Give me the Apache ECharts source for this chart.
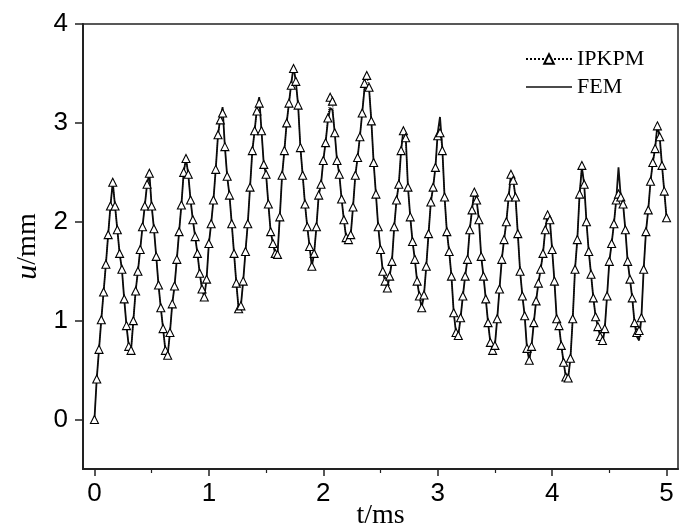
<!DOCTYPE html>
<html>
<head>
<meta charset="utf-8">
<script src="https://cdn.jsdelivr.net/npm/echarts@6/dist/echarts.min.js"></script>
<style>html,body{margin:0;padding:0;background:#fff}#c{width:685px;height:530px}</style>
</head>
<body>
<div id="c"></div>
<script>
// time step (ms) of the sampled series
var dt = 0.02;
var xTicks = [0, 1, 2, 3, 4, 5];
var xMinorTicks = [0.5, 1.5, 2.5, 3.5, 4.5];
var yTicks = [0, 1, 2, 3, 4];
var seriesNames = ['IPKPM', 'FEM'];

// IPKPM displacement u (mm), one value per dt
var ipkpm = [
0.00,0.41,0.71,1.01,1.29,1.57,1.87,2.16,2.40,2.16,
1.92,1.68,1.52,1.22,0.95,0.74,0.70,1.00,1.30,1.50,
1.72,1.95,2.16,2.38,2.49,2.16,1.93,1.65,1.36,1.13,
0.92,0.70,0.65,0.88,1.17,1.35,1.62,1.90,2.17,2.50,
2.64,2.48,2.22,2.02,1.85,1.68,1.48,1.32,1.24,1.42,
1.78,1.98,2.22,2.53,2.88,3.03,3.10,2.76,2.46,2.27,
1.98,1.68,1.38,1.12,1.15,1.40,1.70,1.98,2.35,2.72,
2.92,3.12,3.20,2.92,2.58,2.48,2.18,1.90,1.78,1.68,
1.67,2.05,2.47,2.72,3.00,3.20,3.38,3.55,3.42,3.18,
2.75,2.47,2.18,1.95,1.75,1.55,1.68,1.95,2.27,2.38,
2.62,2.80,3.05,3.26,3.22,2.90,2.62,2.48,2.23,2.02,
1.84,1.82,1.87,2.15,2.47,2.65,2.86,3.10,3.40,3.48,
3.36,3.02,2.60,2.28,1.95,1.72,1.50,1.40,1.33,1.45,
1.60,1.95,2.22,2.38,2.72,2.92,2.85,2.35,2.05,1.80,
1.62,1.40,1.25,1.13,1.26,1.55,1.88,2.20,2.35,2.55,
2.87,2.90,2.72,2.25,1.90,1.70,1.45,1.08,0.88,0.85,
1.03,1.25,1.45,1.62,1.92,2.12,2.30,2.22,2.02,1.65,
1.45,1.22,0.98,0.78,0.70,0.75,1.02,1.32,1.62,1.82,
2.00,2.25,2.48,2.42,2.25,1.88,1.50,1.25,1.05,0.72,
0.60,0.74,0.98,1.20,1.38,1.52,1.68,1.92,2.07,2.02,
1.72,1.40,1.02,0.95,0.75,0.58,0.43,0.42,0.62,1.02,
1.52,1.82,2.28,2.57,2.38,2.00,1.70,1.47,1.23,1.04,
0.94,0.84,0.80,0.92,1.25,1.60,1.78,1.98,2.22,2.28,
2.25,2.18,1.92,1.60,1.42,1.23,0.98,0.88,0.90,1.03,
1.52,1.90,2.12,2.41,2.60,2.74,2.97,2.86,2.57,2.31,
2.04
];

// FEM displacement u (mm), one value per dt
var fem = [
0.00,0.41,0.71,1.01,1.29,1.57,1.87,2.16,2.40,2.16,
1.92,1.68,1.52,1.22,0.95,0.74,0.70,1.00,1.30,1.50,
1.72,1.95,2.16,2.38,2.49,2.16,1.93,1.65,1.36,1.13,
0.92,0.70,0.65,0.88,1.17,1.35,1.62,1.90,2.17,2.50,
2.64,2.48,2.22,2.02,1.85,1.68,1.48,1.32,1.24,1.42,
1.78,1.98,2.22,2.53,2.88,3.05,3.16,2.76,2.46,2.27,
1.98,1.68,1.38,1.12,1.15,1.40,1.70,1.98,2.35,2.72,
2.92,3.15,3.26,2.92,2.58,2.48,2.18,1.90,1.78,1.68,
1.67,2.05,2.47,2.72,3.00,3.20,3.40,3.57,3.42,3.18,
2.75,2.47,2.18,1.95,1.75,1.55,1.68,1.95,2.27,2.38,
2.62,2.80,3.02,3.15,3.13,2.90,2.62,2.48,2.23,2.02,
1.84,1.82,1.87,2.15,2.47,2.65,2.86,3.10,3.34,3.38,
3.35,3.02,2.60,2.28,1.95,1.72,1.50,1.40,1.33,1.45,
1.60,1.95,2.22,2.38,2.72,2.93,2.88,2.35,2.05,1.80,
1.62,1.40,1.25,1.13,1.26,1.55,1.88,2.20,2.35,2.55,
2.90,3.06,2.75,2.25,1.90,1.70,1.45,1.08,0.88,0.85,
1.03,1.25,1.45,1.62,1.92,2.12,2.32,2.22,2.02,1.65,
1.45,1.22,0.98,0.78,0.70,0.75,1.02,1.32,1.62,1.82,
2.00,2.25,2.48,2.42,2.25,1.88,1.50,1.25,1.05,0.72,
0.60,0.74,0.98,1.20,1.38,1.52,1.68,1.92,2.07,2.02,
1.72,1.40,1.02,0.95,0.75,0.58,0.43,0.42,0.62,1.02,
1.52,1.82,2.28,2.55,2.38,2.00,1.70,1.47,1.23,1.04,
0.94,0.84,0.76,0.92,1.25,1.60,1.78,1.98,2.22,2.55,
2.25,2.18,1.92,1.60,1.42,1.23,0.98,0.84,0.80,1.03,
1.52,1.90,2.12,2.41,2.60,2.74,2.98,2.86,2.57,2.31,
2.04
];

function pairs(vals) {
  return vals.map(function (v, i) { return [+(i * dt).toFixed(2), v]; });
}

var chart = echarts.init(document.getElementById('c'), null, {renderer: 'canvas'});
var axisFont = 'Liberation Sans, Arial, sans-serif';
var serif = 'Liberation Serif, Times New Roman, serif';

chart.setOption({
  animation: false,
  backgroundColor: '#fff',
  grid: {left: 83, right: 7, top: 24, bottom: 61, containLabel: false, outerBoundsMode: 'none',
    show: true, borderColor: '#222', borderWidth: 1.5, backgroundColor: 'transparent'},
  legend: {
    orient: 'vertical', left: 520, top: 43, itemWidth: 46, itemHeight: 12, itemGap: 6,
    data: [
      {name: seriesNames[0]},
      {name: seriesNames[1], icon: 'path://M0,0 L0.01,0 L0.01,0.01 Z M0,5.2 L46,5.2 L46,6.8 L0,6.8 Z M0,12 L0.01,12 L0.01,11.99 Z',
       itemStyle: {color: '#111', borderWidth: 0}}
    ],
    textStyle: {fontFamily: serif, fontSize: 22, color: '#000'}
  },
  xAxis: [{
    type: 'value', min: -0.1, max: 5.1,
    name: 't/ms', nameLocation: 'middle', nameGap: 33, nameMoveOverlap: false,
    nameTextStyle: {fontFamily: serif, fontSize: 28, color: '#000'},
    axisLine: {show: true, onZero: false, lineStyle: {color: '#222', width: 2}},
    axisTick: {show: true, inside: false, length: 7, customValues: xTicks, lineStyle: {color: '#222', width: 1.5}},
    axisLabel: {customValues: xTicks, fontFamily: axisFont, fontSize: 26, color: '#000', margin: 12},
    splitLine: {show: false}
  }, {
    type: 'value', min: -0.1, max: 5.1, position: 'bottom',
    axisLine: {show: false, onZero: false},
    axisTick: {show: true, length: 4, customValues: xMinorTicks, lineStyle: {color: '#222', width: 1.2}},
    axisLabel: {show: false},
    splitLine: {show: false}
  }],
  yAxis: {
    type: 'value', min: -0.5, max: 4,
    name: '{i|u}/mm', nameLocation: 'middle', nameGap: 40, nameRotate: 90, nameMoveOverlap: false,
    nameTextStyle: {fontFamily: serif, fontSize: 28, color: '#000',
      rich: {i: {fontFamily: serif, fontSize: 30, fontStyle: 'italic', color: '#000'}}},
    axisLine: {show: true, onZero: false, lineStyle: {color: '#222', width: 2}},
    axisTick: {show: true, inside: false, length: 8, customValues: yTicks, lineStyle: {color: '#222', width: 1.5}},
    axisLabel: {customValues: yTicks, fontFamily: axisFont, fontSize: 26, color: '#000', margin: 15},
    splitLine: {show: false}
  },
  series: [{
    name: seriesNames[0], type: 'line', data: pairs(ipkpm), z: 3,
    symbol: 'triangle', symbolSize: 8, showAllSymbol: true,
    itemStyle: {color: '#fff', borderColor: '#000', borderWidth: 1.1},
    lineStyle: {type: 'dotted', width: 1, color: '#000'}
  }, {
    name: seriesNames[1], type: 'line', data: pairs(fem), z: 2,
    symbol: 'none',
    itemStyle: {color: '#111'},
    lineStyle: {type: 'solid', width: 1.8, color: '#111'}
  }]
});
</script>
</body>
</html>
